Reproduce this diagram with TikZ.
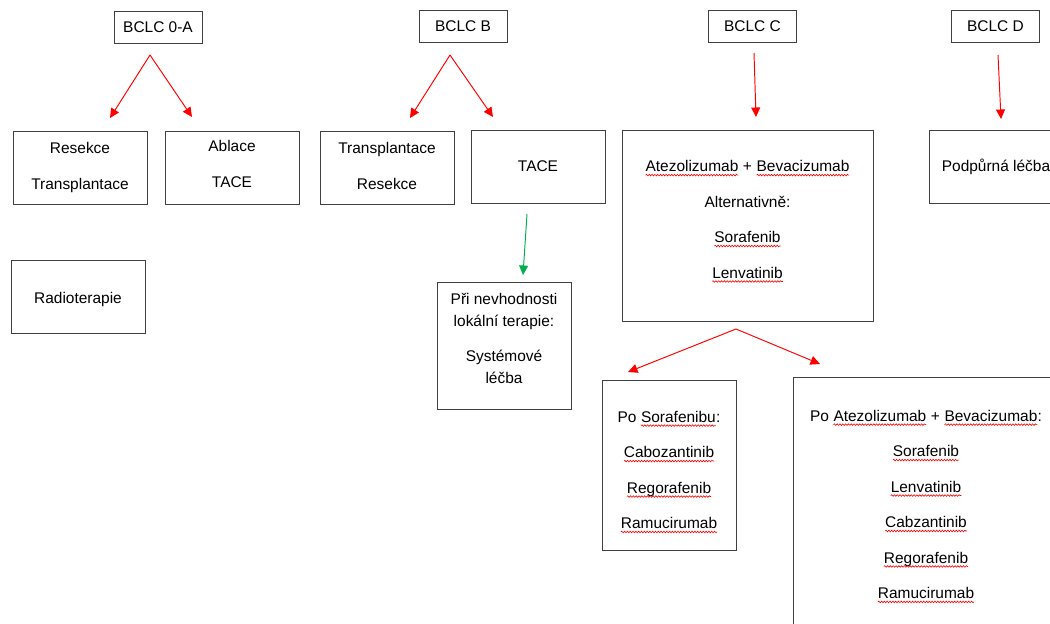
\documentclass[tikz,border=0pt]{standalone}
\usepackage{fontspec}
\setmainfont{Liberation Sans}
\usetikzlibrary{arrows.meta,decorations.pathmorphing}

\definecolor{wordgreen}{RGB}{0,176,80}

% red wavy underline as in the original document
\newcommand{\spellerr}[1]{\tikz[baseline=(sw.base), x=1cm, y=1cm]{%
  \node[draw=none, minimum width=0pt, minimum height=0pt, inner sep=0pt, outer sep=0pt, align=left] (sw) {#1};
  \draw[red, line width=0.35pt, decorate, decoration={snake, amplitude=0.45pt, segment length=1.6pt}]
    ([yshift=-1.8pt]sw.base west) -- ([yshift=-1.8pt]sw.base east);}}
\newcommand{\gap}{\\[0.27cm]}

\tikzset{
  stage/.style={draw=black!75, line width=0.5pt, minimum width=1.76cm, minimum height=0.64cm, inner sep=0pt},
  box/.style={draw=black!75, line width=0.5pt, minimum width=2.68cm, minimum height=1.46cm, align=center, inner sep=0pt},
  redarrow/.style={red, line width=0.55pt, -{Triangle[length=0.19cm,width=0.18cm]}},
  greenarrow/.style={wordgreen, line width=0.55pt, -{Triangle[length=0.19cm,width=0.18cm]}},
  every node/.style={font=\fontsize{8.8pt}{12.5pt}\selectfont}
}

\begin{document}
\begin{tikzpicture}[x=0.02cm, y=-0.02cm]
  \useasboundingbox (0,0) rectangle (1050,623);
  \clip (0,0) rectangle (1050,623);

  % stages
  \node[stage] (stage0A) at (158,27) {BCLC 0-A};
  \node[stage] (stageB) at (463,26.5) {BCLC B};
  \node[stage] (stageC) at (752.5,26.5) {BCLC C};
  \node[stage] (stageD) at (995.5,26.5) {BCLC D};

  % treatments
  \node[box] (resekce) at (80,167.5) {Resekce\gap Transplantace};
  \node[box] (ablace) at (232,167.5) {Ablace\gap TACE\\[-8.5pt]};
  \node[box] (radio) at (78,296.5) {Radioterapie\\[-14pt]};
  \node[box] (transB) at (387,168) {Transplantace\gap Resekce\\[-10pt]};
  \node[box] (tace) at (538,166.5) {TACE};
  \node[box, minimum height=2.54cm] (nevhod) at (504,345.5)
    {Při nevhodnosti\\lokální terapie:\gap Systémové\\léčba\\[-4.5pt]};
  \node[box, minimum width=5.02cm, minimum height=3.82cm] (atezo) at (747.5,225.5)
    {\spellerr{Atezolizumab} + \spellerr{Bevacizumab}\gap Alternativně:\gap
     \spellerr{Sorafenib}\gap \spellerr{Lenvatinib}\\[-5.7pt]};
  \node[box] (podpurna) at (996,166.5) {Podpůrná léčba};
  \node[box, minimum height=3.4cm] (posora) at (669,465)
    {Po \spellerr{Sorafenibu}:\gap \spellerr{Cabozantinib}\gap
     \spellerr{Regorafenib}\gap \spellerr{Ramucirumab}\\[-18.2pt]};
  \node[box, minimum width=5.32cm, minimum height=4.98cm] (poatezo) at (926,501.5)
    {Po \spellerr{Atezolizumab} + \spellerr{Bevacizumab}:\gap \spellerr{Sorafenib}\gap
     \spellerr{Lenvatinib}\gap \spellerr{Cabzantinib}\gap \spellerr{Regorafenib}\gap
     \spellerr{Ramucirumab}\\[-15.9pt]};

  % arrow ends
  \coordinate (apex0A) at (150,55);
  \coordinate (tip0Aa) at (110,118);
  \coordinate (tip0Ab) at (192,117);
  \coordinate (apexB) at (450,55);
  \coordinate (tipBa) at (410,118);
  \coordinate (tipBb) at (493,117);
  \coordinate (startC) at (754,53);
  \coordinate (tipC) at (756,117);
  \coordinate (startD) at (998,55);
  \coordinate (tipD) at (1001,119);
  \coordinate (startT) at (527,214);
  \coordinate (tipT) at (523,275);
  \coordinate (apexC) at (736,329);
  \coordinate (tipCa) at (628,372);
  \coordinate (tipCb) at (820,364);

  \draw[redarrow] (apex0A) -- (tip0Aa);
  \draw[redarrow] (apex0A) -- (tip0Ab);
  \draw[redarrow] (apexB) -- (tipBa);
  \draw[redarrow] (apexB) -- (tipBb);
  \draw[redarrow] (startC) -- (tipC);
  \draw[redarrow] (startD) -- (tipD);
  \draw[greenarrow] (startT) -- (tipT);
  \draw[redarrow] (apexC) -- (tipCa);
  \draw[redarrow] (apexC) -- (tipCb);
\end{tikzpicture}
\end{document}
